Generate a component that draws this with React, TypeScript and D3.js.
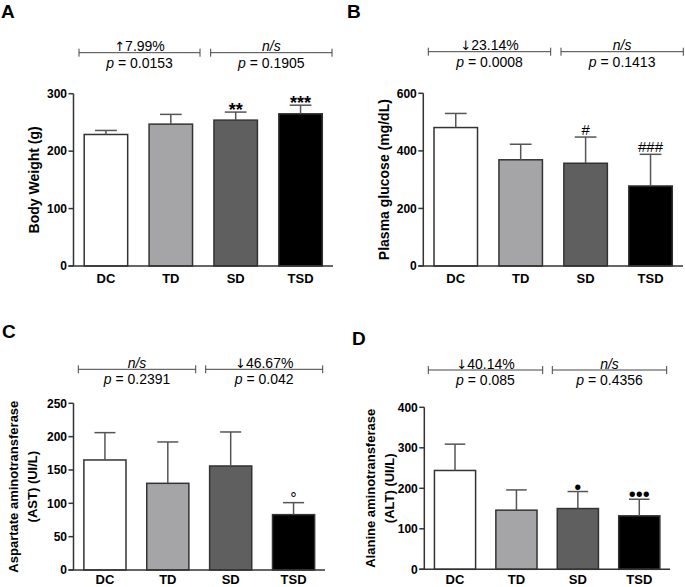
import React from "react";
import * as d3 from "d3";

// ---------- data ----------
const categories = ["DC", "TD", "SD", "TSD"];

const bodyWeight = [229, 247, 254, 265];
const bodyWeightSem = [7, 17, 14, 15];
const bodyWeightTicks = [0, 100, 200, 300];
const bodyWeightMarks = ["", "", "**", "***"];
const bodyWeightBracketTop = ["↑7.99%", "n/s"];
const bodyWeightBracketP = ["0.0153", "0.1905"];

const glucose = [481, 369, 357, 278];
const glucoseSem = [49, 54, 91, 110];
const glucoseTicks = [0, 200, 400, 600];
const glucoseMarks = ["", "", "#", "###"];
const glucoseBracketTop = ["↓23.14%", "n/s"];
const glucoseBracketP = ["0.0008", "0.1413"];

const ast = [165, 130, 156, 83];
const astSem = [41, 62, 51, 18];
const astTicks = [0, 50, 100, 150, 200, 250];
const astMarks = ["", "", "", "°"];
const astBracketTop = ["n/s", "↓46.67%"];
const astBracketP = ["0.2391", "0.042"];

const alt = [244, 146, 150, 132];
const altSem = [65, 50, 42, 41];
const altTicks = [0, 100, 200, 300, 400];
const altMarks = ["", "", "•", "•••"];
const altBracketTop = ["↓40.14%", "n/s"];
const altBracketP = ["0.085", "0.4356"];

// ---------- styles ----------
const FILLS = ["#ffffff", "#a5a5a8", "#5f5f5f", "#000000"];
const FONT = "'Liberation Sans', Arial, Helvetica, sans-serif";
const AXIS = "#333333";

type PanelProps = {
  letter: string;
  letterX: number;
  letterY: number;
  axisX: number;
  axisRight: number;
  yTop: number;
  yBottom: number;
  ticks: number[];
  values: number[];
  sems: number[];
  marks: string[];
  title: string[];
  titleX: number[];
  titleSize: number;
  brackets: [number, number][];
  bracketY: number;
  bracketTop: string[];
  bracketP: string[];
  labelY: number;
};

function markStyle(m: string) {
  const c = m.charAt(0);
  if (c === "*") return { size: 18, weight: "bold", dy: 4 };
  if (c === "#") return { size: 15, weight: "normal", dy: -2 };
  if (c === "•") return { size: 20, weight: "normal", dy: 2 };
  return { size: 16, weight: "normal", dy: 1.5 };
}

function TopLabel({ text }: { text: string }) {
  const first = text.charAt(0);
  if (first === "↑" || first === "↓") {
    return (
      <>
        <tspan fontFamily="'DejaVu Sans', sans-serif" fontSize={13}>
          {first}
        </tspan>
        <tspan>{text.slice(1)}</tspan>
      </>
    );
  }
  return <>{text}</>;
}

function Panel(p: PanelProps) {
  const x = d3
    .scaleBand<string>()
    .domain(categories)
    .range([p.axisX, p.axisRight])
    .paddingInner(0.33)
    .paddingOuter(0.165);
  const y = d3
    .scaleLinear()
    .domain([0, p.ticks[p.ticks.length - 1]])
    .range([p.yBottom, p.yTop]);
  const bw = x.bandwidth();
  const cy = (p.yTop + p.yBottom) / 2;

  return (
    <g fontFamily={FONT}>
      <text x={p.letterX} y={p.letterY} fontSize={19} fontWeight="bold">
        {p.letter}
      </text>

      {/* comparison brackets */}
      {p.brackets.map(([x1, x2], i) => {
        const cx = (x1 + x2) / 2;
        const top = p.bracketTop[i];
        return (
          <g key={"br" + i}>
            <line x1={x1} x2={x2} y1={p.bracketY} y2={p.bracketY} stroke="#444" strokeWidth={1} />
            <line x1={x1} x2={x1} y1={p.bracketY - 4} y2={p.bracketY + 4} stroke="#444" strokeWidth={1} />
            <line x1={x2} x2={x2} y1={p.bracketY - 4} y2={p.bracketY + 4} stroke="#444" strokeWidth={1} />
            <text
              x={cx}
              y={p.bracketY - 1.5}
              textAnchor="middle"
              fontSize={14}
              fontStyle={top === "n/s" ? "italic" : "normal"}
            >
              <TopLabel text={top} />
            </text>
            <text x={cx} y={p.bracketY + 15} textAnchor="middle" fontSize={14}>
              <tspan fontStyle="italic">p</tspan>
              {" = " + p.bracketP[i]}
            </text>
          </g>
        );
      })}

      {/* bars */}
      {categories.map((c, i) => (
        <rect
          key={"bar" + c}
          x={x(c)}
          y={y(p.values[i])}
          width={bw}
          height={y(0) - y(p.values[i])}
          fill={FILLS[i]}
          stroke={AXIS}
          strokeWidth={1.5}
        />
      ))}

      {/* error bars */}
      {categories.map((c, i) => {
        const cx = (x(c) as number) + bw / 2;
        const yt = y(p.values[i] + p.sems[i]);
        return (
          <g key={"err" + c} stroke="#555" strokeWidth={1.5}>
            <line x1={cx} x2={cx} y1={y(p.values[i])} y2={yt} />
            <line x1={cx - bw / 4} x2={cx + bw / 4} y1={yt} y2={yt} />
          </g>
        );
      })}

      {/* significance markers */}
      {categories.map((c, i) => {
        const m = p.marks[i];
        if (!m) return null;
        const st = markStyle(m);
        const cx = (x(c) as number) + bw / 2;
        const yt = y(p.values[i] + p.sems[i]);
        return (
          <text
            key={"mk" + c}
            x={cx}
            y={yt + st.dy}
            textAnchor="middle"
            fontSize={st.size}
            fontWeight={st.weight}
          >
            {m}
          </text>
        );
      })}

      {/* axes */}
      <line x1={p.axisX} x2={p.axisX} y1={p.yTop} y2={p.yBottom} stroke={AXIS} strokeWidth={1.5} />
      <line x1={p.axisX - 5} x2={p.axisRight} y1={p.yBottom} y2={p.yBottom} stroke={AXIS} strokeWidth={1.5} />
      {p.ticks.map((t) => (
        <g key={"t" + t}>
          <line x1={p.axisX - 5} x2={p.axisX} y1={y(t)} y2={y(t)} stroke={AXIS} strokeWidth={1.5} />
          <text
            x={p.axisX - 6.5}
            y={y(t)}
            dy="0.36em"
            textAnchor="end"
            fontSize={12}
            fontWeight="bold"
          >
            {t}
          </text>
        </g>
      ))}
      {categories.map((c) => (
        <text
          key={"xl" + c}
          x={(x(c) as number) + bw / 2}
          y={p.labelY}
          textAnchor="middle"
          fontSize={13}
          fontWeight="bold"
        >
          {c}
        </text>
      ))}

      {/* y-axis title */}
      {p.title.map((line, i) => (
        <text
          key={"ti" + i}
          transform={`translate(${p.titleX[i]},${cy}) rotate(-90)`}
          textAnchor="middle"
          fontSize={p.titleSize}
          fontWeight="bold"
        >
          {line}
        </text>
      ))}
    </g>
  );
}

export default function App() {
  return (
    <svg
      width={685}
      height={587}
      style={{ position: "absolute", left: 0, top: 0, background: "#fff" }}
    >
      <rect x={0} y={0} width={685} height={587} fill="#fff" />
      <Panel
        letter="A"
        letterX={1}
        letterY={18}
        axisX={73.5}
        axisRight={333}
        yTop={93.7}
        yBottom={266}
        ticks={bodyWeightTicks}
        values={bodyWeight}
        sems={bodyWeightSem}
        marks={bodyWeightMarks}
        title={["Body Weight (g)"]}
        titleX={[39]}
        titleSize={14}
        brackets={[[79, 200], [210.7, 332]]}
        bracketY={52.7}
        bracketTop={bodyWeightBracketTop}
        bracketP={bodyWeightBracketP}
        labelY={283}
      />
      <Panel
        letter="B"
        letterX={347}
        letterY={18}
        axisX={423.3}
        axisRight={683}
        yTop={93.3}
        yBottom={266}
        ticks={glucoseTicks}
        values={glucose}
        sems={glucoseSem}
        marks={glucoseMarks}
        title={["Plasma glucose (mg/dL)"]}
        titleX={[389]}
        titleSize={14}
        brackets={[[428.3, 550.7], [561, 683.3]]}
        bracketY={51.7}
        bracketTop={glucoseBracketTop}
        bracketP={glucoseBracketP}
        labelY={283}
      />
      <Panel
        letter="C"
        letterX={2}
        letterY={338}
        axisX={73.5}
        axisRight={325}
        yTop={403.3}
        yBottom={570}
        ticks={astTicks}
        values={ast}
        sems={astSem}
        marks={astMarks}
        title={["Aspartate aminotransferase", "(AST) (UI/L)"]}
        titleX={[18, 37]}
        titleSize={13}
        brackets={[[78.3, 195.7], [205.7, 322.7]]}
        bracketY={369.3}
        bracketTop={astBracketTop}
        bracketP={astBracketP}
        labelY={584}
      />
      <Panel
        letter="D"
        letterX={352}
        letterY={345}
        axisX={424.3}
        axisRight={670}
        yTop={407.3}
        yBottom={569.3}
        ticks={altTicks}
        values={alt}
        sems={altSem}
        marks={altMarks}
        title={["Alanine aminotransferase", "(ALT) (UI/L)"]}
        titleX={[375, 394]}
        titleSize={13}
        brackets={[[428.3, 542.7], [552.3, 666.7]]}
        bracketY={370}
        bracketTop={altBracketTop}
        bracketP={altBracketP}
        labelY={584}
      />
    </svg>
  );
}
